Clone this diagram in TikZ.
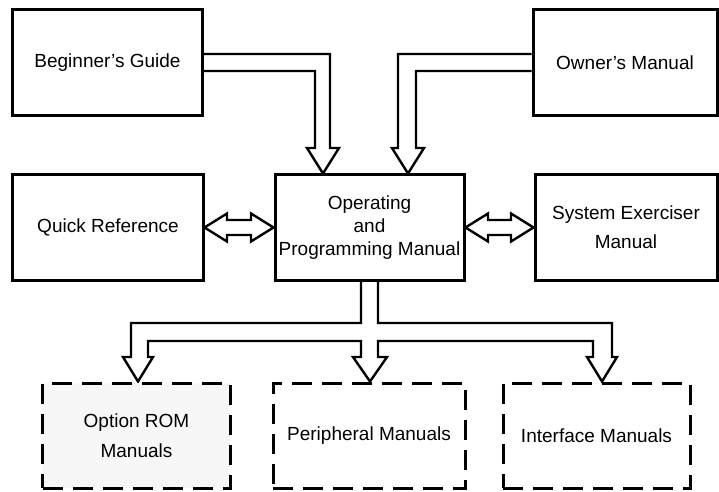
\documentclass[tikz,border=0pt]{standalone}
\usepackage{fontspec}
\setmainfont{Liberation Sans}
\usetikzlibrary{calc}
\pgfdeclarelayer{back}
\pgfsetlayers{back,main}
\begin{document}
\begin{tikzpicture}[x=1bp,y=-1bp,
  box/.style={draw,line width=3bp,rectangle,align=center,inner sep=0pt,
    font=\fontsize{19bp}{23bp}\selectfont},
  dbox/.style={box,dash pattern=on 20bp off 10bp},
  fat/.style={draw,line width=2.4bp,fill=white,line join=miter}]
\useasboundingbox (0,0) rectangle (719,492);
% boxes
\node[box,minimum width=189bp,minimum height=106bp] (bg) at (107.5,62.5) {Beginner's Guide};
\node[box,minimum width=184bp,minimum height=106bp] (om) at (625,62.5) {Owner's Manual};
\node[box,minimum width=190bp,minimum height=105bp] (qr) at (108,227.5) {Quick Reference};
\node[box,minimum width=189bp,minimum height=105bp] (opm) at (369.5,227.5) {Operating\\and\\Programming Manual};
\node[box,minimum width=182bp,minimum height=105bp] (se) at (626,227.5) {System Exerciser\\[6bp]Manual};
\node[dbox,fill=black!3,minimum width=187bp,minimum height=105bp] (rom) at (136.5,435.5) {Option ROM\\[7bp]Manuals};
\node[dbox,minimum width=192bp,minimum height=105bp] (per) at (369,435.5) {Peripheral Manuals};
\node[dbox,minimum width=187bp,minimum height=105bp] (ifc) at (596.5,435.5) {Interface Manuals};
\begin{pgfonlayer}{back}
% top arrows
\draw[fat] (bg.east |- 0,54) -- (330,54) -- (330,148) -- (339,148) -- (opm.north -| 323,0)
  -- (307,148) -- (315,148) -- (315,71) -- (bg.east |- 0,71);
\draw[fat] (om.west |- 0,54) -- (398,54) -- (398,148) -- (392,148) -- (opm.north -| 408,0)
  -- (424,148) -- (416,148) -- (416,71) -- (om.west |- 0,71);
% double arrows
\draw[fat] (qr.east) -- (227,213.5) -- (227,220) -- (251,220) -- (251,213.5) -- (opm.west)
  -- (251,241.5) -- (251,235) -- (227,235) -- (227,241.5) -- cycle;
\draw[fat] (opm.east) -- (488,213.5) -- (488,220) -- (511,220) -- (511,213.5) -- (se.west)
  -- (511,241.5) -- (511,235) -- (488,235) -- (488,241.5) -- cycle;
% bottom tree
\draw[fat] (opm.south -| 361,0) -- (361,323) -- (131,323) -- (131,357) -- (123,357)
  -- (rom.north -| 138,0) -- (153,357) -- (148,357) -- (148,341) -- (361,341)
  -- (361,357) -- (353,357) -- (per.north -| 370,0) -- (387,357) -- (378,357)
  -- (378,341) -- (593,341) -- (593,357) -- (587,357) -- (ifc.north -| 602,0)
  -- (617,357) -- (612,357) -- (612,323) -- (378,323) -- (opm.south -| 378,0);
\end{pgfonlayer}
\end{tikzpicture}
\end{document}
